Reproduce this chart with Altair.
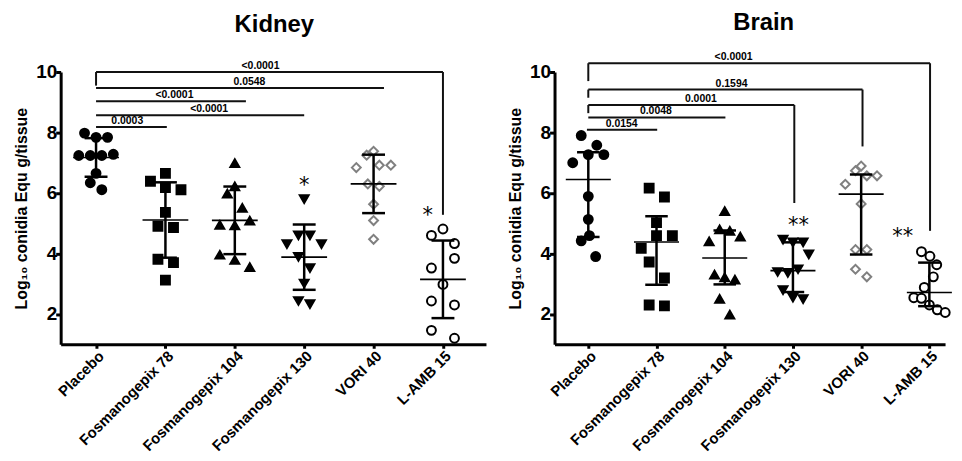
import altair as alt
import pandas as pd
import numpy as np

groups = ["Placebo", "Fosmanogepix 78", "Fosmanogepix 104", "Fosmanogepix 130", "VORI 40", "L-AMB 15"]

# ---- Kidney: log10 conidia equivalents / g tissue (one list per group)
kidney_placebo = [7.98, 7.84, 7.84, 7.24, 7.24, 7.24, 7.28, 6.65, 6.34, 6.11]
kidney_fos78 = [6.39, 6.65, 6.18, 6.11, 5.36, 4.90, 4.86, 3.81, 3.70, 3.12]
kidney_fos104 = [6.99, 6.22, 5.98, 5.51, 4.95, 4.93, 5.09, 3.96, 3.79, 3.55]
kidney_fos130 = [5.80, 4.60, 4.60, 4.31, 4.31, 3.89, 3.52, 3.01, 2.43, 2.33]
kidney_vori40 = [7.38, 7.25, 6.84, 6.92, 6.92, 6.30, 6.22, 5.63, 5.09, 4.47]
kidney_lamb15 = [4.81, 4.60, 4.33, 3.84, 3.52, 2.98, 2.43, 2.30, 1.46, 1.20]

# beeswarm column (dodge slot) of each point
kidney_placebo_col = [-2, 0, 2, -3, -1, 1, 3, 0, -1, 1]
kidney_fos78_col = [-2.6, 0, 0, 2.7, 0, -1.3, 1.4, -1.3, 1.4, 0]
kidney_fos104_col = [0, 0, -1.3, 1.3, -2.6, 0, 2.6, -2.6, 0, 2.6]
kidney_fos130_col = [0, -1, 1, -3, 3, -1, 1, 0, -1, 1]
kidney_vori40_col = [0, -1.2, -3, 1, 3, -1, 1, 0, 0, 0]
kidney_lamb15_col = [0, -2, 2, 2, -2, 0, -2, 2, -2, 2]

# ---- Brain
brain_placebo = [7.90, 7.58, 7.27, 7.27, 7.00, 5.89, 5.13, 4.42, 4.59, 3.90]
brain_fos78 = [6.16, 5.87, 5.02, 4.59, 4.59, 4.17, 3.72, 3.19, 2.30, 2.27]
brain_fos104 = [5.40, 4.80, 4.75, 4.40, 4.56, 3.30, 3.21, 3.14, 2.50, 1.98]
brain_fos130 = [4.46, 4.37, 4.37, 3.97, 3.39, 3.36, 3.48, 2.79, 2.54, 2.49]
brain_vori40 = [6.89, 6.74, 6.57, 6.57, 6.29, 5.64, 4.13, 4.13, 3.48, 3.23]
brain_lamb15 = [4.06, 3.91, 3.63, 3.23, 2.88, 2.54, 2.52, 2.30, 2.14, 2.05]

brain_placebo_col = [-1.25, 1.5, 0, 2.75, -2.75, 0, 0, -1.25, 0.2, 1.3]
brain_fos78_col = [-1.3, 1.4, 0, 0, 2.8, -2.7, -1.3, 1.4, -1.3, 1.4]
brain_fos104_col = [0, -0.9, 0.9, -2.75, 2.75, -1.8, 0, 1.8, -0.9, 0.9]
brain_fos130_col = [-1.75, 0, 1.8, 2.8, -2.7, -0.9, 0.9, -1.75, 0, 1.8]
brain_vori40_col = [0, -1, 1, 2.8, -2.8, 0, -1, 1, -1, 1]
brain_lamb15_col = [-1.4, 0.1, 1.3, 0.7, -0.9, -2.75, -1.4, 0, 1.4, 2.8]

# ---- comparison brackets (x in group-index units, y in log units)
kidney_br_label = ["<0.0001", "0.0548", "<0.0001", "<0.0001", "0.0003"]
kidney_br_from = [0, 0, 0, 0, 0]
kidney_br_to = [5, 4.15, 2.16, 3.0, 1.02]
kidney_br_level = [10.0, 9.47, 9.03, 8.57, 8.18]
kidney_br_left_end = [9.55, None, None, None, None]
kidney_br_right_end = [5.28, None, None, None, None]
kidney_br_label_at = [2.37, 2.21, 1.13, 1.63, 0.45]

brain_br_label = ["<0.0001", "0.1594", "0.0001", "0.0048", "0.0154"]
brain_br_from = [0, 0, 0, 0, -0.02]
brain_br_to = [5.01, 4.02, 3.02, 2.01, 1.01]
brain_br_level = [10.29, 9.42, 8.91, 8.50, 8.09]
brain_br_left_end = [9.70, 9.15, 8.64, None, None]
brain_br_right_end = [4.75, 7.54, 5.67, None, None]
brain_br_label_at = [2.13, 2.10, 1.65, 0.99, 0.49]

# ---- significance stars
kidney_star_text = ["*", "*"]
kidney_star_group = [3, 5]
kidney_star_shift = [0.0, -0.22]
kidney_star_value = [6.36, 5.36]

brain_star_text = ["**", "**"]
brain_star_group = [3, 5]
brain_star_shift = [0.08, -0.39]
brain_star_value = [5.04, 4.67]

SLOT = 0.083
shapes = ["circle", "square", "triangle-up", "triangle-down", "diamond", "circle"]
fills = ["black", "black", "black", "black", "white", "white"]
strokes = ["black", "black", "black", "black", "#808080", "black"]


def points_df(lists, cols):
    rows = []
    for gi, (vals, cs) in enumerate(zip(lists, cols)):
        for v, c in zip(vals, cs):
            rows.append({"group": groups[gi], "gidx": gi, "value": v, "col": c})
    return pd.DataFrame(rows)


def stats_df(lists, kind):
    rows = []
    for gi, vals in enumerate(lists):
        a = np.array(vals)
        if kind == "mean_sd":
            c = a.mean(); s = a.std(ddof=1); lo, hi = c - s, c + s
        else:
            c = np.median(a)
            lo, hi = np.percentile(a, [25, 75], method="weibull")
        rows.append({"gidx": gi, "center": c, "lo": lo, "hi": hi})
    return pd.DataFrame(rows)


def bracket_df(lab, f, t, lev, le, re, la):
    return pd.DataFrame({"label": lab, "x1": f, "x2": t, "level": lev,
                         "lend": le, "rend": re, "labx": la})


def star_df(txt, g, sh, v):
    return pd.DataFrame({"txt": txt, "gidx": g, "shift": sh, "value": v})


label_expr = "[" + ",".join(f"'{g}'" for g in groups) + "][datum.value]"
FONT = "Liberation Sans"
YTITLE = "Log\u2081\u2080 conidia Equ g/tissue"


def panel(title, pts, st, br, stars, width, xdom, title_dx, title_offset):
    xs = alt.Scale(domain=xdom, nice=False, zero=False)
    ys = alt.Scale(domain=[1, 10], nice=False, zero=False)
    xaxis = alt.Axis(values=[0, 1, 2, 3, 4, 5], labelExpr=label_expr, title=None,
                     labelAngle=-45, labelAlign="right", labelBaseline="top",
                     labelFont=FONT, labelFontSize=15, labelFontWeight="bold",
                     labelColor="black", labelPadding=0, grid=False,
                     domainWidth=3, domainColor="black", tickWidth=3, tickSize=4,
                     tickColor="black", labelOverlap=False, labelBound=False)
    yaxis = alt.Axis(values=[2, 4, 6, 8, 10], title=YTITLE,
                     titleFont=FONT, titleFontSize=16, titleFontWeight="bold", titleColor="black",
                     titlePadding=6, labelFont=FONT, labelFontSize=19, labelFontWeight="bold",
                     labelColor="black", labelPadding=-1, grid=False, domainWidth=3,
                     domainColor="black", tickWidth=3, tickSize=5, tickColor="black")

    def X(f):
        return alt.X(f, scale=xs, axis=xaxis, title=None)

    def Y(f):
        return alt.Y(f, scale=ys, axis=yaxis, title=YTITLE)

    pts_layer = alt.Chart(pts).transform_calculate(
        xp=f"datum.gidx + datum.col * {SLOT}"
    ).mark_point(filled=True, opacity=1, size=80, strokeWidth=2).encode(
        x=X("xp:Q"),
        y=Y("value:Q"),
        shape=alt.Shape("group:N", scale=alt.Scale(domain=groups, range=shapes), legend=None),
        fill=alt.Fill("group:N", scale=alt.Scale(domain=groups, range=fills), legend=None),
        stroke=alt.Stroke("group:N", scale=alt.Scale(domain=groups, range=strokes), legend=None),
    )

    base_st = alt.Chart(st)
    vert = base_st.mark_rule(strokeWidth=2.5, color="black").encode(
        x=X("gidx:Q"), y=Y("lo:Q"), y2="hi:Q")
    caps = base_st.transform_fold(["lo", "hi"], as_=["which", "yv"]).transform_calculate(
        xa="datum.gidx - 0.165", xb="datum.gidx + 0.165"
    ).mark_rule(strokeWidth=2.5, color="black").encode(
        x=X("xa:Q"), x2="xb:Q", y=Y("yv:Q"))
    center = base_st.transform_calculate(
        xa="datum.gidx - 0.33", xb="datum.gidx + 0.33"
    ).mark_rule(strokeWidth=1.6, color="black").encode(
        x=X("xa:Q"), x2="xb:Q", y=Y("center:Q"))

    base_br = alt.Chart(br)
    hline = base_br.mark_rule(strokeWidth=2, color="#111").encode(
        x=X("x1:Q"), x2="x2:Q", y=Y("level:Q"))
    lv = base_br.transform_filter("isValid(datum.lend)").mark_rule(strokeWidth=2, color="#111").encode(
        x=X("x1:Q"), y=Y("level:Q"), y2="lend:Q")
    rv = base_br.transform_filter("isValid(datum.rend)").mark_rule(strokeWidth=2, color="#111").encode(
        x=X("x2:Q"), y=Y("level:Q"), y2="rend:Q")
    blab = base_br.mark_text(font=FONT, fontSize=10.5, fontWeight="bold", baseline="bottom",
                             dy=-1).encode(
        x=X("labx:Q"), y=Y("level:Q"), text="label:N", fill=alt.value("black"))

    star = alt.Chart(stars).transform_calculate(
        xs_="datum.gidx + datum.shift"
    ).mark_text(font="DejaVu Sans", fontSize=21, baseline="middle", dy=4).encode(
        x=X("xs_:Q"), y=Y("value:Q"), text="txt:N", fill=alt.value("black"))

    return alt.layer(pts_layer, vert, caps, center, hline, lv, rv, blab, star).properties(
        width=width, height=274,
        title=alt.TitleParams(title, font=FONT, fontSize=24, fontWeight="bold", color="black",
                              anchor="middle", frame="group", dx=title_dx, offset=title_offset))


kid = panel("Kidney",
            points_df([kidney_placebo, kidney_fos78, kidney_fos104, kidney_fos130, kidney_vori40, kidney_lamb15],
                      [kidney_placebo_col, kidney_fos78_col, kidney_fos104_col, kidney_fos130_col,
                       kidney_vori40_col, kidney_lamb15_col]),
            stats_df([kidney_placebo, kidney_fos78, kidney_fos104, kidney_fos130, kidney_vori40, kidney_lamb15],
                     "mean_sd"),
            bracket_df(kidney_br_label, kidney_br_from, kidney_br_to, kidney_br_level,
                       kidney_br_left_end, kidney_br_right_end, kidney_br_label_at),
            star_df(kidney_star_text, kidney_star_group, kidney_star_shift, kidney_star_value),
            428, [-0.51, 5.62], 1, 24)

brain = panel("Brain",
              points_df([brain_placebo, brain_fos78, brain_fos104, brain_fos130, brain_vori40, brain_lamb15],
                        [brain_placebo_col, brain_fos78_col, brain_fos104_col, brain_fos130_col,
                         brain_vori40_col, brain_lamb15_col]),
              stats_df([brain_placebo, brain_fos78, brain_fos104, brain_fos130, brain_vori40, brain_lamb15],
                       "median_iqr"),
              bracket_df(brain_br_label, brain_br_from, brain_br_to, brain_br_level,
                         brain_br_left_end, brain_br_right_end, brain_br_label_at),
              star_df(brain_star_text, brain_star_group, brain_star_shift, brain_star_value),
              393, [-0.495, 5.23], 14, 17)

chart = alt.hconcat(kid, brain, spacing=21).resolve_scale(
    x="independent", y="independent"
).properties(padding={"left": 5, "top": 2, "right": 0, "bottom": 0}).configure_view(stroke=None)

chart.save("out.html", embed_options={"renderer": "svg", "actions": False})
